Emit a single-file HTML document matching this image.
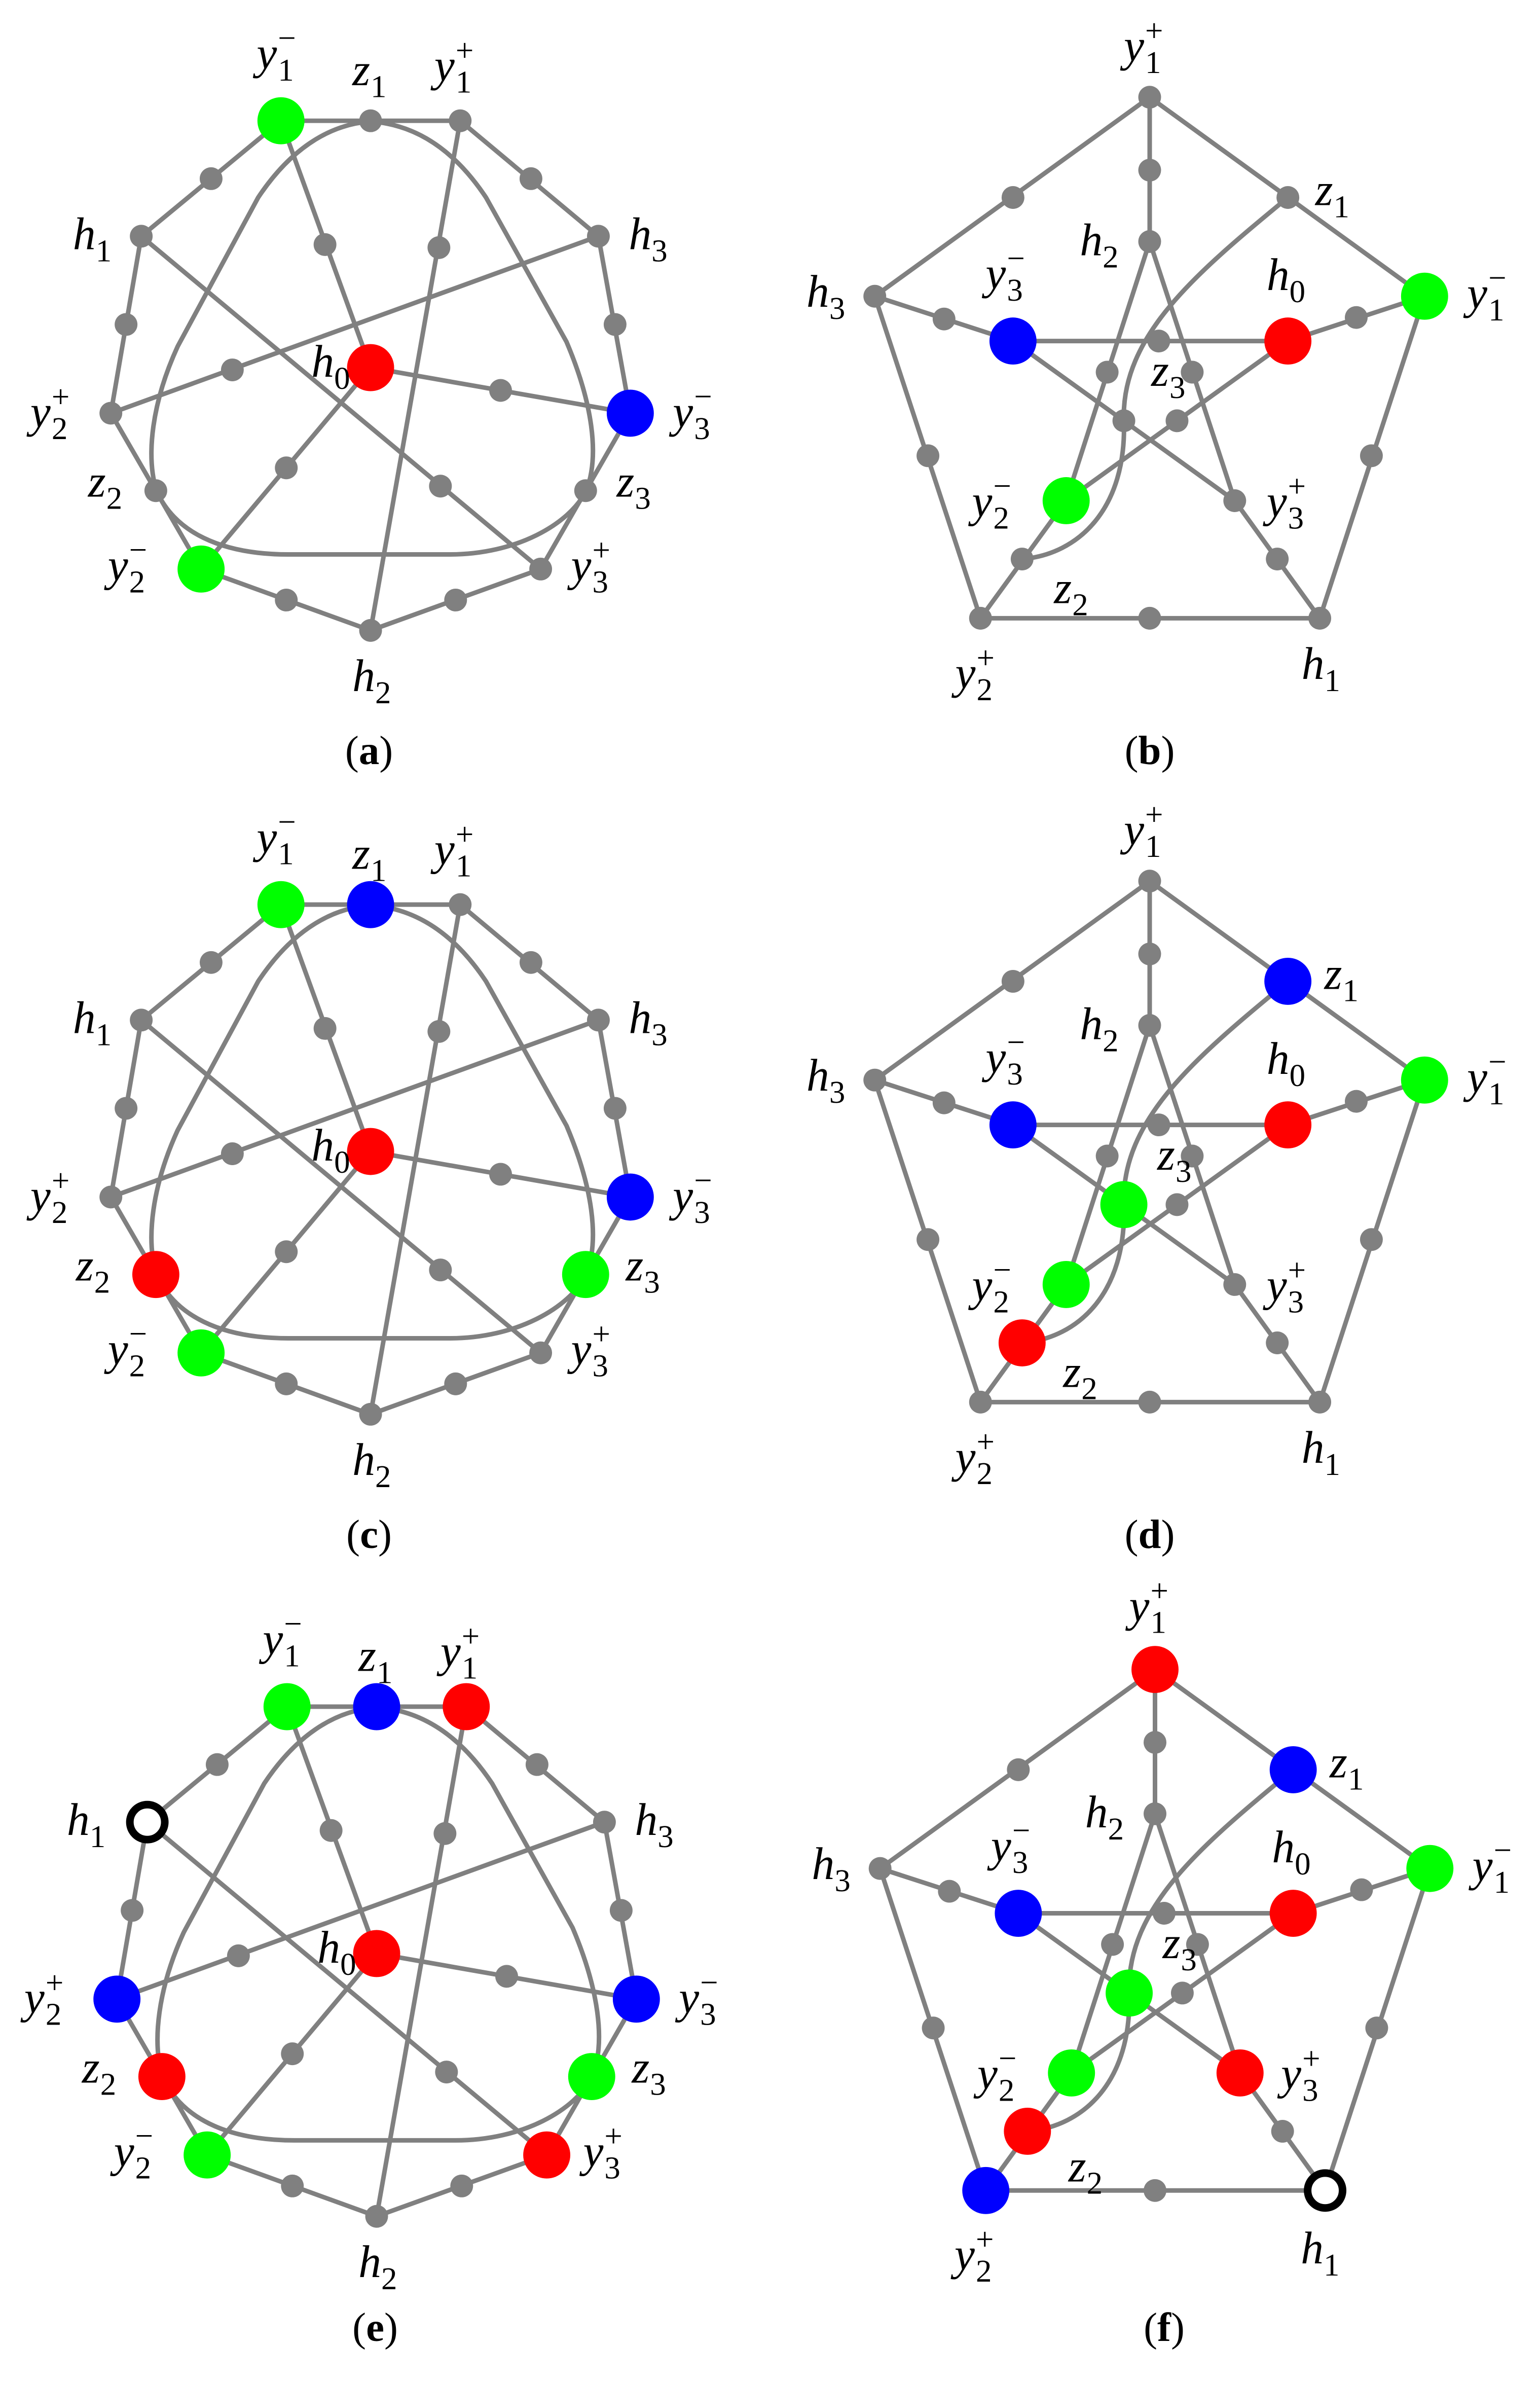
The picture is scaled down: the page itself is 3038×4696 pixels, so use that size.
<!DOCTYPE html>
<html><head><meta charset="utf-8"><style>
html,body{margin:0;padding:0;background:#fff}
svg{display:block}
.t{font-family:"Liberation Serif",serif;font-style:italic;font-size:30px;fill:#000}
.s{font-family:"Liberation Serif",serif;font-size:21px;fill:#000}
.c{font-family:"Liberation Serif",serif;font-size:27px;fill:#000;text-anchor:middle}
</style></head><body>
<svg width="3038" height="4696" viewBox="0 0 1014 1567.4" preserveAspectRatio="none" xmlns="http://www.w3.org/2000/svg">
<defs>
<g id="A">
<g fill="none" stroke="#808080" stroke-width="3">
<path d="M185,79.5 L303,79.5 L394,155.5 L415,272 L356,374.6 L244,415 L132.4,374.6 L73,272 L93,155.5 Z"/>
<path d="M185,79.5 L244,242 M303,79.5 L244,415 M93,155.5 L356,374.6 M394,155.5 L73,272 M244,242 L415,272 M244,242 L132.4,374.6"/>
<path d="M244,80 C215,82 190,100 170,130 L117,228 C100,265 96,300 103,323 C115,350 145,365 190,365 L296,365 C340,365 375,345 386,323 C395,300 390,265 373,225 L320,130 C300,100 275,82 244,80 Z"/>
</g>
<g fill="#808080">
<circle cx="244" cy="79.5" r="7.5"/><circle cx="139" cy="117.6" r="7.5"/><circle cx="349.6" cy="117.6" r="7.5"/>
<circle cx="83" cy="213.6" r="7.5"/><circle cx="405" cy="213.6" r="7.5"/><circle cx="102.6" cy="323" r="7.5"/>
<circle cx="385.6" cy="323" r="7.5"/><circle cx="188.5" cy="395" r="7.5"/><circle cx="300" cy="395" r="7.5"/>
<circle cx="214" cy="161" r="7.5"/><circle cx="289" cy="163" r="7.5"/><circle cx="153" cy="243.5" r="7.5"/>
<circle cx="329.6" cy="257" r="7.5"/><circle cx="188.5" cy="308" r="7.5"/><circle cx="290" cy="320" r="7.5"/>
<circle cx="185" cy="79.5" r="7.5"/><circle cx="303" cy="79.5" r="7.5"/><circle cx="93" cy="155.5" r="7.5"/>
<circle cx="394" cy="155.5" r="7.5"/><circle cx="73" cy="272" r="7.5"/><circle cx="415" cy="272" r="7.5"/>
<circle cx="132.4" cy="374.6" r="7.5"/><circle cx="356" cy="374.6" r="7.5"/><circle cx="244" cy="415" r="7.5"/>
<circle cx="244" cy="242" r="7.5"/>
</g>
</g>
<g id="B">
<g fill="none" stroke="#808080" stroke-width="3">
<path d="M757,64 L757,159 M757,64 L576,195 M757,64 L938,195 M576,195 L667,224.5 M848,224.5 L938,195 M667,224.5 L848,224.5 M576,195 L645.6,407 M938,195 L869,407 M645.6,407 L869,407 M757,159 L702,329.6 M757,159 L813,329.6 M667,224.5 L813,329.6 M848,224.5 L702,329.6 M702,329.6 L645.6,407 M813,329.6 L869,407"/>
<path d="M848,130 C790,178 738,220 740,277 C742,335 710,365 673,368"/>
</g>
<g fill="#808080">
<circle cx="757" cy="112" r="7.5"/><circle cx="667" cy="130" r="7.5"/><circle cx="848" cy="130" r="7.5"/>
<circle cx="621.6" cy="210" r="7.5"/><circle cx="893" cy="209" r="7.5"/><circle cx="763" cy="224.5" r="7.5"/>
<circle cx="611" cy="300" r="7.5"/><circle cx="903" cy="300" r="7.5"/><circle cx="757" cy="407" r="7.5"/>
<circle cx="729" cy="245" r="7.5"/><circle cx="785" cy="245" r="7.5"/><circle cx="740" cy="277" r="7.5"/>
<circle cx="775" cy="277" r="7.5"/><circle cx="673" cy="368" r="7.5"/><circle cx="841" cy="368" r="7.5"/>
<circle cx="757" cy="64" r="7.5"/><circle cx="757" cy="159" r="7.5"/><circle cx="576" cy="195" r="7.5"/>
<circle cx="938" cy="195" r="7.5"/><circle cx="667" cy="224.5" r="7.5"/><circle cx="848" cy="224.5" r="7.5"/>
<circle cx="645.6" cy="407" r="7.5"/><circle cx="869" cy="407" r="7.5"/><circle cx="702" cy="329.6" r="7.5"/>
<circle cx="813" cy="329.6" r="7.5"/>
</g>
</g>
</defs>

<use href="#A"/>
<circle cx="185" cy="79.5" r="15.5" fill="#00ff00"/><circle cx="244" cy="242" r="15.5" fill="#ff0000"/>
<circle cx="415" cy="272" r="15.5" fill="#0000ff"/><circle cx="132.4" cy="374.6" r="15.5" fill="#00ff00"/>
<g>
<text class="t" x="169" y="45">y</text><text class="s" x="183" y="53">1</text><text class="s" x="183" y="32">−</text>
<text class="t" x="232" y="56">z</text><text class="s" x="244" y="64">1</text>
<text class="t" x="286" y="53">y</text><text class="s" x="300" y="61">1</text><text class="s" x="300" y="40">+</text>
<text class="t" x="48" y="164">h</text><text class="s" x="63" y="172">1</text>
<text class="t" x="414" y="164">h</text><text class="s" x="429" y="172">3</text>
<text class="t" x="20" y="281">y</text><text class="s" x="34" y="289">2</text><text class="s" x="34" y="268">+</text>
<text class="t" x="443" y="281">y</text><text class="s" x="457" y="289">3</text><text class="s" x="457" y="268">−</text>
<text class="t" x="58" y="327">z</text><text class="s" x="70" y="335">2</text>
<text class="t" x="406" y="327">z</text><text class="s" x="418" y="335">3</text>
<text class="t" x="71" y="382">y</text><text class="s" x="85" y="390">2</text><text class="s" x="85" y="369">−</text>
<text class="t" x="376" y="382">y</text><text class="s" x="390" y="390">3</text><text class="s" x="390" y="369">+</text>
<text class="t" x="205" y="248">h</text><text class="s" x="220" y="256">0</text>
<text class="t" x="232" y="455">h</text><text class="s" x="247" y="463">2</text>
</g>
<text class="c" x="243" y="503">(<tspan font-weight="bold">a</tspan>)</text>

<use href="#B"/>
<circle cx="938" cy="195" r="15.5" fill="#00ff00"/><circle cx="667" cy="224.5" r="15.5" fill="#0000ff"/>
<circle cx="848" cy="224.5" r="15.5" fill="#ff0000"/><circle cx="702" cy="329.6" r="15.5" fill="#00ff00"/>
<g>
<text class="t" x="740" y="40">y</text><text class="s" x="754" y="48">1</text><text class="s" x="754" y="27">+</text>
<text class="t" x="866" y="135">z</text><text class="s" x="878" y="143">1</text>
<text class="t" x="711" y="168">h</text><text class="s" x="726" y="176">2</text>
<text class="t" x="649" y="190">y</text><text class="s" x="663" y="198">3</text><text class="s" x="663" y="177">−</text>
<text class="t" x="834" y="191">h</text><text class="s" x="849" y="199">0</text>
<text class="t" x="531" y="202">h</text><text class="s" x="546" y="210">3</text>
<text class="t" x="966" y="203">y</text><text class="s" x="980" y="211">1</text><text class="s" x="980" y="190">−</text>
<text class="t" x="758" y="254">z</text><text class="s" x="770" y="262">3</text>
<text class="t" x="640" y="340">y</text><text class="s" x="654" y="348">2</text><text class="s" x="654" y="327">−</text>
<text class="t" x="834" y="340">y</text><text class="s" x="848" y="348">3</text><text class="s" x="848" y="327">+</text>
<text class="t" x="694" y="397">z</text><text class="s" x="706" y="405">2</text>
<text class="t" x="629" y="453">y</text><text class="s" x="643" y="461">2</text><text class="s" x="643" y="440">+</text>
<text class="t" x="857" y="447">h</text><text class="s" x="872" y="455">1</text>
</g>
<text class="c" x="757" y="503">(<tspan font-weight="bold">b</tspan>)</text>

<g transform="translate(0,516)">
<use href="#A"/>
<circle cx="185" cy="79.5" r="15.5" fill="#00ff00"/><circle cx="244" cy="79.5" r="15.5" fill="#0000ff"/>
<circle cx="244" cy="242" r="15.5" fill="#ff0000"/><circle cx="415" cy="272" r="15.5" fill="#0000ff"/>
<circle cx="102.6" cy="323" r="15.5" fill="#ff0000"/><circle cx="385.6" cy="323" r="15.5" fill="#00ff00"/>
<circle cx="132.4" cy="374.6" r="15.5" fill="#00ff00"/>
<text class="t" x="169" y="45">y</text><text class="s" x="183" y="53">1</text><text class="s" x="183" y="32">−</text>
<text class="t" x="232" y="56">z</text><text class="s" x="244" y="64">1</text>
<text class="t" x="286" y="53">y</text><text class="s" x="300" y="61">1</text><text class="s" x="300" y="40">+</text>
<text class="t" x="48" y="164">h</text><text class="s" x="63" y="172">1</text>
<text class="t" x="414" y="164">h</text><text class="s" x="429" y="172">3</text>
<text class="t" x="20" y="281">y</text><text class="s" x="34" y="289">2</text><text class="s" x="34" y="268">+</text>
<text class="t" x="443" y="281">y</text><text class="s" x="457" y="289">3</text><text class="s" x="457" y="268">−</text>
<text class="t" x="50" y="327">z</text><text class="s" x="62" y="335">2</text>
<text class="t" x="412" y="327">z</text><text class="s" x="424" y="335">3</text>
<text class="t" x="71" y="382">y</text><text class="s" x="85" y="390">2</text><text class="s" x="85" y="369">−</text>
<text class="t" x="376" y="382">y</text><text class="s" x="390" y="390">3</text><text class="s" x="390" y="369">+</text>
<text class="t" x="205" y="248">h</text><text class="s" x="220" y="256">0</text>
<text class="t" x="232" y="455">h</text><text class="s" x="247" y="463">2</text>
<text class="c" x="243" y="503">(<tspan font-weight="bold">c</tspan>)</text>
</g>

<g transform="translate(0,516)">
<use href="#B"/>
<circle cx="848" cy="130" r="15.5" fill="#0000ff"/>
<circle cx="938" cy="195" r="15.5" fill="#00ff00"/><circle cx="667" cy="224.5" r="15.5" fill="#0000ff"/>
<circle cx="848" cy="224.5" r="15.5" fill="#ff0000"/><circle cx="740" cy="277" r="15.5" fill="#00ff00"/>
<circle cx="702" cy="329.6" r="15.5" fill="#00ff00"/><circle cx="673" cy="368" r="15.5" fill="#ff0000"/>
<text class="t" x="740" y="40">y</text><text class="s" x="754" y="48">1</text><text class="s" x="754" y="27">+</text>
<text class="t" x="872" y="135">z</text><text class="s" x="884" y="143">1</text>
<text class="t" x="711" y="168">h</text><text class="s" x="726" y="176">2</text>
<text class="t" x="649" y="190">y</text><text class="s" x="663" y="198">3</text><text class="s" x="663" y="177">−</text>
<text class="t" x="834" y="191">h</text><text class="s" x="849" y="199">0</text>
<text class="t" x="531" y="202">h</text><text class="s" x="546" y="210">3</text>
<text class="t" x="966" y="203">y</text><text class="s" x="980" y="211">1</text><text class="s" x="980" y="190">−</text>
<text class="t" x="762" y="254">z</text><text class="s" x="774" y="262">3</text>
<text class="t" x="640" y="340">y</text><text class="s" x="654" y="348">2</text><text class="s" x="654" y="327">−</text>
<text class="t" x="834" y="340">y</text><text class="s" x="848" y="348">3</text><text class="s" x="848" y="327">+</text>
<text class="t" x="700" y="397">z</text><text class="s" x="712" y="405">2</text>
<text class="t" x="629" y="453">y</text><text class="s" x="643" y="461">2</text><text class="s" x="643" y="440">+</text>
<text class="t" x="857" y="447">h</text><text class="s" x="872" y="455">1</text>
<text class="c" x="757" y="503">(<tspan font-weight="bold">d</tspan>)</text>
</g>

<g transform="translate(4,1044)">
<use href="#A"/>
<circle cx="185" cy="79.5" r="15.5" fill="#00ff00"/><circle cx="244" cy="79.5" r="15.5" fill="#0000ff"/>
<circle cx="303" cy="79.5" r="15.5" fill="#ff0000"/>
<circle cx="93" cy="155.5" r="11.5" fill="#fff" stroke="#000" stroke-width="5"/>
<circle cx="244" cy="242" r="15.5" fill="#ff0000"/>
<circle cx="73" cy="272" r="15.5" fill="#0000ff"/><circle cx="415" cy="272" r="15.5" fill="#0000ff"/>
<circle cx="102.6" cy="323" r="15.5" fill="#ff0000"/><circle cx="385.6" cy="323" r="15.5" fill="#00ff00"/>
<circle cx="132.4" cy="374.6" r="15.5" fill="#00ff00"/><circle cx="356" cy="374.6" r="15.5" fill="#ff0000"/>
<text class="t" x="169" y="45">y</text><text class="s" x="183" y="53">1</text><text class="s" x="183" y="32">−</text>
<text class="t" x="232" y="56">z</text><text class="s" x="244" y="64">1</text>
<text class="t" x="286" y="53">y</text><text class="s" x="300" y="61">1</text><text class="s" x="300" y="40">+</text>
<text class="t" x="40" y="164">h</text><text class="s" x="55" y="172">1</text>
<text class="t" x="414" y="164">h</text><text class="s" x="429" y="172">3</text>
<text class="t" x="12" y="281">y</text><text class="s" x="26" y="289">2</text><text class="s" x="26" y="268">+</text>
<text class="t" x="443" y="281">y</text><text class="s" x="457" y="289">3</text><text class="s" x="457" y="268">−</text>
<text class="t" x="50" y="327">z</text><text class="s" x="62" y="335">2</text>
<text class="t" x="412" y="327">z</text><text class="s" x="424" y="335">3</text>
<text class="t" x="71" y="382">y</text><text class="s" x="85" y="390">2</text><text class="s" x="85" y="369">−</text>
<text class="t" x="380" y="382">y</text><text class="s" x="394" y="390">3</text><text class="s" x="394" y="369">+</text>
<text class="t" x="205" y="248">h</text><text class="s" x="220" y="256">0</text>
<text class="t" x="232" y="455">h</text><text class="s" x="247" y="463">2</text>
<text class="c" x="243" y="497">(<tspan font-weight="bold">e</tspan>)</text>
</g>

<g transform="translate(3.5,1035)">
<use href="#B"/>
<circle cx="757" cy="64" r="15.5" fill="#ff0000"/>
<circle cx="848" cy="130" r="15.5" fill="#0000ff"/>
<circle cx="938" cy="195" r="15.5" fill="#00ff00"/><circle cx="667" cy="224.5" r="15.5" fill="#0000ff"/>
<circle cx="848" cy="224.5" r="15.5" fill="#ff0000"/><circle cx="740" cy="277" r="15.5" fill="#00ff00"/>
<circle cx="702" cy="329.6" r="15.5" fill="#00ff00"/><circle cx="813" cy="329.6" r="15.5" fill="#ff0000"/>
<circle cx="673" cy="368" r="15.5" fill="#ff0000"/>
<circle cx="645.6" cy="407" r="15.5" fill="#0000ff"/>
<circle cx="869" cy="407" r="11.5" fill="#fff" stroke="#000" stroke-width="5"/>
<text class="t" x="740" y="32">y</text><text class="s" x="754" y="40">1</text><text class="s" x="754" y="19">+</text>
<text class="t" x="872" y="135">z</text><text class="s" x="884" y="143">1</text>
<text class="t" x="711" y="168">h</text><text class="s" x="726" y="176">2</text>
<text class="t" x="649" y="190">y</text><text class="s" x="663" y="198">3</text><text class="s" x="663" y="177">−</text>
<text class="t" x="834" y="191">h</text><text class="s" x="849" y="199">0</text>
<text class="t" x="531" y="202">h</text><text class="s" x="546" y="210">3</text>
<text class="t" x="966" y="203">y</text><text class="s" x="980" y="211">1</text><text class="s" x="980" y="190">−</text>
<text class="t" x="762" y="254">z</text><text class="s" x="774" y="262">3</text>
<text class="t" x="640" y="340">y</text><text class="s" x="654" y="348">2</text><text class="s" x="654" y="327">−</text>
<text class="t" x="840" y="340">y</text><text class="s" x="854" y="348">3</text><text class="s" x="854" y="327">+</text>
<text class="t" x="700" y="401">z</text><text class="s" x="712" y="409">2</text>
<text class="t" x="625" y="459">y</text><text class="s" x="639" y="467">2</text><text class="s" x="639" y="446">+</text>
<text class="t" x="853" y="455">h</text><text class="s" x="868" y="463">1</text>
<text class="c" x="763" y="506">(<tspan font-weight="bold">f</tspan>)</text>
</g>
</svg>
</body></html>
